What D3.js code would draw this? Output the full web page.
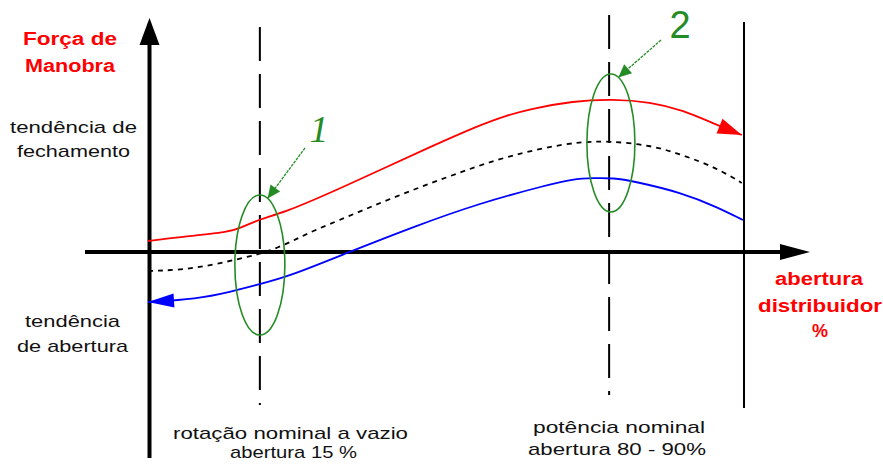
<!DOCTYPE html>
<html>
<head>
<meta charset="utf-8">
<script src="https://cdn.jsdelivr.net/npm/d3@7/dist/d3.min.js"></script>
<style>
  html, body { margin: 0; padding: 0; background: #fff; }
  svg { display: block; }
  text { font-family: "Liberation Sans", Arial, sans-serif; }
</style>
</head>
<body>
<svg id="chart" width="883" height="464"></svg>
<script>
// Abertura do distribuidor (%) x força de manobra (unidades arbitrárias)
const closingForce = [   // tendência de fechamento (vermelho)
  [0, 1.1], [5.4, 1.5], [13.8, 2.0], [15.5, 2.4], [18.8, 3.3], [22.7, 3.9],
  [30.6, 5.9], [39.0, 8.2], [47.4, 10.5], [55.8, 12.7], [60.0, 13.6], [64.2, 14.3],
  [71.4, 15.1], [78.2, 15.3], [84.4, 15.0], [89.9, 14.2], [95.6, 12.7], [99.8, 11.7]
];
const meanForce = [      // curva média (tracejada)
  [0, -1.9], [5.4, -1.8], [10.9, -1.3], [16.6, -0.5], [18.8, -0.2], [21.7, 0.4],
  [25.0, 1.3], [27.7, 2.1], [33.4, 3.5], [41.8, 5.6], [50.3, 7.5], [58.7, 9.3],
  [67.1, 10.5], [72.6, 11.0], [77.3, 11.1], [84.4, 10.7], [89.9, 9.7], [95.6, 8.4], [99.8, 6.9]
];
const openingForce = [   // tendência de abertura (azul)
  [0, -5.0], [8.2, -4.7], [13.8, -4.0], [18.8, -3.2], [23.4, -2.5], [33.4, -0.1],
  [44.5, 2.5], [55.8, 4.9], [67.1, 6.7], [71.4, 7.3], [75.0, 7.4], [78.2, 7.4], [81.5, 7.1],
  [89.9, 5.9], [95.6, 4.5], [100, 3.2]
];
const operatingPoints = [18.8, 77.5];          // rotação nominal a vazio / potência nominal
const ellipseCenters = [[18.8, -1.3], [77.8, 10.9]];
const pointLabels = ["1", "2"];

const svg = d3.select("#chart");
const x = d3.scaleLinear().domain([0, 100]).range([148, 743]);
const y = d3.scaleLinear().domain([-20.6, 23.5]).range([458, 17]);

const green = "#258c25";
const line = d3.line().x(d => x(d[0])).y(d => y(d[1])).curve(d3.curveBasis);

// linhas verticais de referência
const vTop = [27, 15];
const vBottom = [405, 395];
operatingPoints.forEach((p, i) => {
  svg.append("line")
    .attr("x1", x(p)).attr("x2", x(p))
    .attr("y1", vTop[i]).attr("y2", vBottom[i])
    .attr("stroke", "#000").attr("stroke-width", 2)
    .attr("stroke-dasharray", "34,13");
});
// limite de abertura máxima
svg.append("line")
  .attr("x1", x(100) + 1).attr("x2", x(100) + 1)
  .attr("y1", 22).attr("y2", 408)
  .attr("stroke", "#000").attr("stroke-width", 2);

// eixos
const x0 = x(0) + 1.5, yZero = y(0);
svg.append("line").attr("x1", x0).attr("x2", x0).attr("y1", 44).attr("y2", 458)
  .attr("stroke", "#000").attr("stroke-width", 4);
svg.append("path").attr("d", `M${x0},18 L${x0 - 10},45 L${x0 + 10},45 Z`).attr("fill", "#000");
svg.append("line").attr("x1", 85).attr("x2", 785).attr("y1", yZero).attr("y2", yZero)
  .attr("stroke", "#000").attr("stroke-width", 4);
svg.append("path").attr("d", `M810,${yZero} L780,${yZero - 8} L780,${yZero + 8} Z`).attr("fill", "#000");

// curvas
svg.append("path").datum(meanForce).attr("d", line)
  .attr("fill", "none").attr("stroke", "#000").attr("stroke-width", 1.8)
  .attr("stroke-dasharray", "5,5");
svg.append("path").datum(closingForce).attr("d", line)
  .attr("fill", "none").attr("stroke", "#ff0000").attr("stroke-width", 1.8);
svg.append("path").datum(openingForce).attr("d", line)
  .attr("fill", "none").attr("stroke", "#0000ff").attr("stroke-width", 1.8);

// ponta de seta orientada por dois pontos
function arrowHead(tip, from, len, half, color) {
  const ang = Math.atan2(tip[1] - from[1], tip[0] - from[0]);
  const bx = tip[0] - len * Math.cos(ang), by = tip[1] - len * Math.sin(ang);
  const nx = -Math.sin(ang) * half, ny = Math.cos(ang) * half;
  svg.append("path")
    .attr("d", `M${tip[0]},${tip[1]} L${bx + nx},${by + ny} L${bx - nx},${by - ny} Z`)
    .attr("fill", color);
}
const px = d => [x(d[0]), y(d[1])];
arrowHead(px(closingForce[closingForce.length - 1]), px(closingForce[closingForce.length - 2]), 24, 8, "#ff0000");
arrowHead(px(openingForce[0]), px(openingForce[1]), 26, 7, "#0000ff");

// elipses de destaque e chamadas numeradas
const ellR = [[25, 70], [24, 69]];
const labelPos = [[319, 142], [680, 38]];
const leaderStart = [[305, 148], [661, 40]];
ellipseCenters.forEach((c, i) => {
  const cx = x(c[0]), cy = y(c[1]);
  svg.append("ellipse").attr("cx", cx).attr("cy", cy)
    .attr("rx", ellR[i][0]).attr("ry", ellR[i][1])
    .attr("fill", "none").attr("stroke", green).attr("stroke-width", 1.6);
  const a = -72 * Math.PI / 180;
  const tip = [cx + ellR[i][0] * Math.cos(a), cy + ellR[i][1] * Math.sin(a)];
  svg.append("line").attr("x1", leaderStart[i][0]).attr("y1", leaderStart[i][1])
    .attr("x2", tip[0]).attr("y2", tip[1])
    .attr("stroke", green).attr("stroke-width", 1.3).attr("stroke-dasharray", "3,1");
  arrowHead(tip, leaderStart[i], 13, 6, green);
  svg.append("text").attr("x", labelPos[i][0]).attr("y", labelPos[i][1])
    .attr("text-anchor", "middle").attr("fill", green)
    .style("font-family", i === 0 ? "'Liberation Serif', serif" : "'Liberation Sans', Arial, sans-serif")
    .style("font-style", i === 0 ? "italic" : "normal")
    .style("font-size", "38px")
    .text(pointLabels[i]);
});

// textos
function label(str, x1, x2, base, size, color, bold) {
  svg.append("text").attr("x", x1).attr("y", base)
    .attr("textLength", x2 - x1).attr("lengthAdjust", "spacingAndGlyphs")
    .attr("fill", color).style("font-size", size + "px")
    .style("font-weight", bold ? "bold" : "normal")
    .text(str);
}
label("Força de", 23, 117, 45, 18, "#ff0000", true);
label("Manobra", 25, 115, 72, 18, "#ff0000", true);
label("tendência de", 10, 137, 133, 17, "#111", false);
label("fechamento", 17, 130, 157, 17, "#111", false);
label("tendência", 25, 120, 327, 17, "#111", false);
label("de abertura", 17, 128, 352, 17, "#111", false);
label("abertura", 775, 863, 285, 18, "#ff0000", true);
label("distribuidor", 758, 882, 312, 18, "#ff0000", true);
svg.append("text").attr("x", 820).attr("y", 337).attr("text-anchor", "middle")
  .attr("fill", "#ff0000").style("font-size", "18px").style("font-weight", "bold").text("%");
label("rotação nominal a vazio", 173, 408, 439, 17, "#111", false);
label("abertura 15 %", 230, 357, 458, 17, "#111", false);
label("potência nominal", 533, 705, 433, 17, "#111", false);
label("abertura 80 - 90%", 528, 706, 455, 17, "#111", false);
</script>
</body>
</html>
